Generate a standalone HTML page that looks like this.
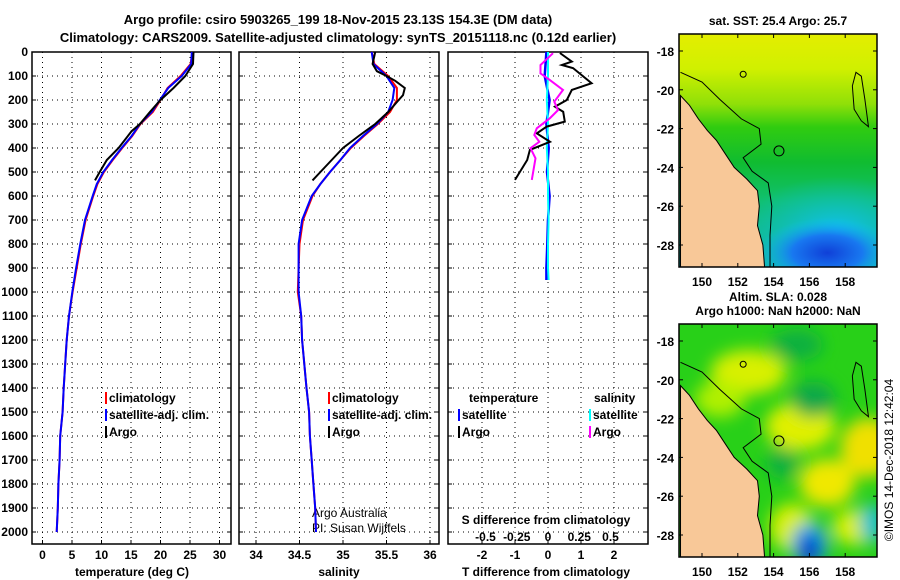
<!DOCTYPE html>
<html><head><meta charset="utf-8">
<style>
html,body{margin:0;padding:0;background:#fff;}
svg{display:block;font-family:"Liberation Sans",Arial,sans-serif;}
.t{font-weight:bold;font-size:13px;}
.tk{font-weight:bold;font-size:12px;}
.grid{stroke:#000;stroke-width:1;stroke-dasharray:1 4;}
</style></head><body>
<svg id="chart" width="900" height="580" viewBox="0 0 900 580">
<defs>
 <linearGradient id="sstg" x1="0" y1="0" x2="0" y2="1">
  <stop offset="0" stop-color="#e4ee00"/><stop offset="0.15" stop-color="#d0f000"/>
  <stop offset="0.3" stop-color="#90e008"/><stop offset="0.4" stop-color="#30cc10"/><stop offset="0.55" stop-color="#10bc30"/>
  <stop offset="0.72" stop-color="#10c070"/><stop offset="1" stop-color="#10b4b0"/>
 </linearGradient>
 <radialGradient id="blueblob"><stop offset="0" stop-color="#1040d8"/><stop offset="0.5" stop-color="#1878f0"/><stop offset="1" stop-color="#10c0f0" stop-opacity="0"/></radialGradient>
 <radialGradient id="cyanblob"><stop offset="0" stop-color="#10c0f0"/><stop offset="1" stop-color="#10c0d0" stop-opacity="0"/></radialGradient>
 <filter id="blur"><feGaussianBlur stdDeviation="8"/></filter>
 <clipPath id="clipTop"><rect x="679" y="34" width="198" height="233"/></clipPath>
 <clipPath id="clipBot"><rect x="679" y="324" width="198" height="233"/></clipPath>
</defs>
<g id="titles">
 <text class="t" x="338" y="24" text-anchor="middle">Argo profile: csiro 5903265_199 18-Nov-2015 23.13S 154.3E (DM data)</text>
 <text class="t" x="338" y="42" text-anchor="middle">Climatology: CARS2009. Satellite-adjusted climatology: synTS_20151118.nc (0.12d earlier)</text>
</g>
<g id="panels"></g>
<g id="maps"></g>
<text x="893" y="460" font-size="12" text-anchor="middle" transform="rotate(-90 893 460)">©IMOS 14-Dec-2018 12:42:04</text>
</svg>
<script>
// ---- data ----
const depthClim = [0,50,100,150,200,250,300,350,400,450,500,550,600,700,800,900,1000,1100,1200,1400,1500,1600,1700,1800,1900,2000];
const tempSat = [25.3,25.2,23.6,21.3,19.9,18.5,16.5,15.1,13.4,11.8,10.3,9.2,8.5,7.2,6.4,5.7,5.05,4.5,4.1,3.6,3.4,3.0,2.9,2.7,2.6,2.4];
const tempClim = [25.4,25.1,23.4,21.2,20.0,18.7,16.6,15.2,13.5,11.9,10.4,9.3,8.6,7.3,6.5,5.8,5.1,4.5,4.1,3.6,3.4,3.0,2.9,2.7,2.6,2.4];
const salSat = [35.33,35.35,35.50,35.59,35.57,35.52,35.39,35.23,35.08,34.97,34.85,34.74,34.64,34.53,34.49,34.49,34.49,34.52,34.53,34.58,34.61,34.62,34.64,34.66,34.68,34.69];
const salClim = [35.33,35.36,35.52,35.62,35.62,35.54,35.40,35.24,35.09,34.97,34.85,34.74,34.65,34.54,34.50,34.49,34.48,34.52,34.53,34.58,34.61,34.62,34.64,34.66,34.68,34.69];
const depthArgo = [0,50,100,150,200,250,300,330,400,450,500,535];
const tempArgo = [25.6,25.5,24.2,22.2,20.0,18.2,16.5,15.1,12.9,10.9,9.7,8.9];
const depthArgoS = [0,50,80,100,120,150,180,200,250,300,350,400,450,500,535];
const salArgo = [35.37,35.34,35.39,35.50,35.60,35.71,35.69,35.64,35.52,35.37,35.18,35.00,34.87,34.74,34.65];
const depthTdiff = [4,40,54,67,130,158,200,228,249,290,311,339,374,408,450,533];
const tdiffArgo = [0.36,0.72,0.42,0.76,1.32,0.72,0.57,0.21,0.46,0.51,-0.04,-0.34,0.06,-0.55,-0.63,-1.0];
const depthSdiff = [5,54,89,117,158,207,242,276,318,346,374,401,443,533];
const sdiffArgo = [0.04,-0.06,-0.06,0.015,0.12,0.05,0.08,0.015,-0.09,-0.11,-0.07,-0.14,-0.10,-0.13];
const depthSat = [0,100,200,300,400,500,600,700,800,900,950];
const tdiffSat = [-0.05,-0.1,0.05,-0.05,0.02,-0.03,0.05,0.0,-0.02,-0.05,-0.05];
const sdiffSat = [0.0,0.0,-0.01,0.0,-0.01,0.0,0.0,0.005,0.0,0.0,0.005];
const depthTicks = [0,100,200,300,400,500,600,700,800,900,1000,1100,1200,1300,1400,1500,1600,1700,1800,1900,2000];
const tempTicks = [0,5,10,15,20,25,30];
const salTicks = [34,34.5,35,35.5,36];
const tdTicks = [-2,-1,0,1,2];
const sdTicks = [-0.5,-0.25,0,0.25,0.5];
const latTicks = [-18,-20,-22,-24,-26,-28];
const lonTicks = [150,152,154,156,158];

const NS='http://www.w3.org/2000/svg';
const P=document.getElementById('panels');
function mk(tag,attrs,parent){const e=document.createElementNS(NS,tag);for(const k in attrs)e.setAttribute(k,attrs[k]);(parent||P).appendChild(e);return e;}
function txt(x,y,s,cls,anchor,parent,extra){const e=mk('text',Object.assign({x:x,y:y,'text-anchor':anchor||'middle'},cls?{class:cls}:{} ,extra||{}),parent);e.textContent=s;return e;}

const yTop=52, yBot=544;
const yD=d=>yTop+d*0.24;
const xT=v=>42.5+v*5.9;
const xS=v=>256+(v-34)*87;
const xTD=v=>548+v*33;
const xSD=v=>548+v*125;

function line(xs,ds,fx,color,w,name){
  const pts=xs.map((v,i)=>fx(v).toFixed(1)+','+yD(ds[i]).toFixed(1)).join(' ');
  const e=mk('polyline',{points:pts,fill:'none',stroke:color,'stroke-width':w});
  
  
}
function panel(x0,x1,vticks,fx,labs,name){
  const g=mk('rect',{x:x0,y:yTop,width:x1-x0,height:yBot-yTop,fill:'none',stroke:'#000','stroke-width':1.5});
  
  
  depthTicks.forEach(d=>{mk('line',{x1:x0,x2:x1,y1:yD(d),y2:yD(d),class:'grid'});mk('line',{x1:x0,x2:x0+4,y1:yD(d),y2:yD(d),stroke:'#000'});mk('line',{x1:x1-4,x2:x1,y1:yD(d),y2:yD(d),stroke:'#000'});});
  vticks.forEach((v,i)=>{const x=fx(v);mk('line',{x1:x,x2:x,y1:yTop,y2:yBot,class:'grid'});mk('line',{x1:x,x2:x,y1:yBot-4,y2:yBot,stroke:'#000'});
    if(labs){const t=txt(x,559,labs[i],'tk');}});
}
panel(32,231,tempTicks,xT,tempTicks.map(String),'temperature-panel');
panel(239,439,salTicks,xS,salTicks.map(String),'salinity-panel');
panel(448,648,tdTicks,xTD,tdTicks.map(String),'difference-panel');
depthTicks.forEach(d=>{const t=txt(28,yD(d)+4,String(d),'tk','end');});
sdTicks.forEach(v=>{const t=txt(xSD(v),541,String(v),'tk');});
txt(132,576,'temperature (deg C)','tk','middle',null,{});
txt(339,576,'salinity','tk','middle',null,{});
txt(546,576,'T difference from climatology','tk','middle',null,{});
txt(546,524,'S difference from climatology','tk','middle',null,{});
txt(312,517,'Argo Australia','', 'start',null,{'font-size':12,'font-weight':'300',});
txt(312,532,'PI: Susan Wijffels','', 'start',null,{'font-size':12,'font-weight':'300',});

line(tempClim,depthClim,xT,'#f00',2,'temp-climatology-line');
line(tempSat,depthClim,xT,'#00f',2,'temp-satellite-adj-line');
line(tempArgo,depthArgo,xT,'#000',2,'temp-argo-line');
line(salClim,depthClim,xS,'#f00',2,'sal-climatology-line');
line(salSat,depthClim,xS,'#00f',2,'sal-satellite-adj-line');
line(salArgo,depthArgoS,xS,'#000',2,'sal-argo-line');
line(tdiffSat,depthSat,xTD,'#00f',2.5,'tdiff-satellite-line');
line(sdiffSat,depthSat,xSD,'#0ff',2,'sdiff-satellite-line');
line(tdiffArgo,depthTdiff,xTD,'#000',2,'tdiff-argo-line');
line(sdiffArgo,depthSdiff,xSD,'#f0f',2,'sdiff-argo-line');

function legend(x,y,items,name){
  items.forEach((it,i)=>{const yy=y+i*17;
    if(it[1]){const m=mk('line',{x1:x,x2:x,y1:yy-10,y2:yy+2,stroke:it[1],'stroke-width':2});}
    const t=txt(x+3,yy,it[0],'tk','start',null,{'font-weight':'normal','font-size':13});});
}
legend(106,402,[['climatology','#f00'],['satellite-adj. clim.','#00f'],['Argo','#000']],'temp-legend');
legend(329,402,[['climatology','#f00'],['satellite-adj. clim.','#00f'],['Argo','#000']],'sal-legend');
legend(459,419,[['satellite','#00f'],['Argo','#000']],'tdiff-legend');
legend(590,419,[['satellite','#0ff'],['Argo','#f0f']],'sdiff-legend');
txt(469,402,'temperature','tk','start',null,{'font-size':13,});
txt(594,402,'salinity','tk','start',null,{'font-size':13,});

// ---- maps ----
const M=document.getElementById('maps');
const land=[[148.8,-20.3],[149.3,-20.8],[149.8,-21.5],[150.3,-22.1],[150.8,-22.6],[151.3,-23.3],[151.8,-24],[152.5,-24.6],[153.1,-25.2],[153.2,-26],[153.1,-27],[153.4,-28],[153.5,-29.2],[148.8,-29.2]];
const shelf=[[148.8,-19.1],[150,-19.6],[151,-20.5],[152.2,-21.5],[153.2,-22],[153.3,-22.8],[152.3,-23.5],[152.8,-24.2],[153.7,-24.8],[153.9,-26],[153.8,-27.5],[153.8,-29.2]];
const reef=[[158.6,-19.1],[158.9,-19.3],[159.1,-20.5],[159.3,-21.9],[158.9,-21.6],[158.5,-21],[158.4,-19.8]];
function map(y0,clip,kind,title1,title2){
  const xl=v=>702+(v-150)*17.9, yl=v=>y0+17+(-18-v)*19.4;
  const g=mk('g',{'clip-path':'url(#'+clip+')'},M);
  
  
  if(kind==='sst'){
    mk('rect',{x:679,y:y0,width:198,height:233,fill:'url(#sstg)'},g);
    mk('ellipse',{cx:xl(157.5),cy:yl(-27.3),rx:95,ry:55,fill:'url(#cyanblob)'},g);
    mk('ellipse',{cx:xl(157),cy:yl(-28.4),rx:70,ry:35,fill:'url(#blueblob)'},g);
  } else {
    mk('rect',{x:679,y:y0,width:198,height:233,fill:'#28d018'},g);
    const b=mk('g',{filter:'url(#blur)'},g);
    [[152.6,-19.6,38,22,'#d8f000'],[155.5,-22.4,35,24,'#e0f000'],[159.3,-23.5,28,30,'#f0e000'],[157,-25.3,28,24,'#f0e800'],[155,-27.6,22,24,'#d8f000'],[158.5,-27.6,22,18,'#d8f000'],[151,-21,25,18,'#b0f000'],
     [155.3,-18.2,26,16,'#10b040'],[156.2,-21,22,18,'#10a848'],[154.5,-24.3,16,16,'#10b040'],[159.5,-27.4,12,20,'#10c0d0'],[156,-28.5,18,22,'#10a0f0'],[156,-28.8,10,15,'#1030c0']].forEach(c=>mk('ellipse',{cx:xl(c[0]),cy:yl(c[1]),rx:c[2],ry:c[3],fill:c[4]},b));
  }
  const lp=mk('polygon',{points:land.map(p=>xl(p[0])+','+yl(p[1])).join(' '),fill:'#f8c898',stroke:'#000','stroke-width':1},g);
  
  
  mk('polyline',{points:shelf.map(p=>xl(p[0])+','+yl(p[1])).join(' '),fill:'none',stroke:'#000','stroke-width':1},g);
  mk('polygon',{points:reef.map(p=>xl(p[0])+','+yl(p[1])).join(' '),fill:'none',stroke:'#000','stroke-width':1},g);
  mk('circle',{cx:xl(154.3),cy:yl(-23.15),r:5,fill:'none',stroke:'#000'},g);
  mk('circle',{cx:xl(152.3),cy:yl(-19.2),r:3,fill:'none',stroke:'#000'},g);
  mk('rect',{x:679,y:y0,width:198,height:233,fill:'none',stroke:'#000','stroke-width':1.5},M);
  latTicks.forEach(v=>{mk('line',{x1:679,x2:683,y1:yl(v),y2:yl(v),stroke:'#000'},M);mk('line',{x1:873,x2:877,y1:yl(v),y2:yl(v),stroke:'#000'},M);
    const t=txt(674,yl(v)+5,String(v),'tk','end',M);});
  lonTicks.forEach(v=>{mk('line',{x1:xl(v),x2:xl(v),y1:y0+233-4,y2:y0+233,stroke:'#000'},M);mk('line',{x1:xl(v),x2:xl(v),y1:y0,y2:y0+4,stroke:'#000'},M);
    const t=txt(xl(v),y0+252,String(v),'tk','middle',M);});
  const a=txt(778,y0-9-(title2?14:0),title1,'tk','middle',M);
  if(title2){const b2=txt(778,y0-9,title2,'tk','middle',M);}
}
map(34,'clipTop','sst','sat. SST: 25.4 Argo: 25.7');
map(324,'clipBot','sla','Altim. SLA: 0.028','Argo h1000: NaN h2000: NaN');
</script>
</body></html>
